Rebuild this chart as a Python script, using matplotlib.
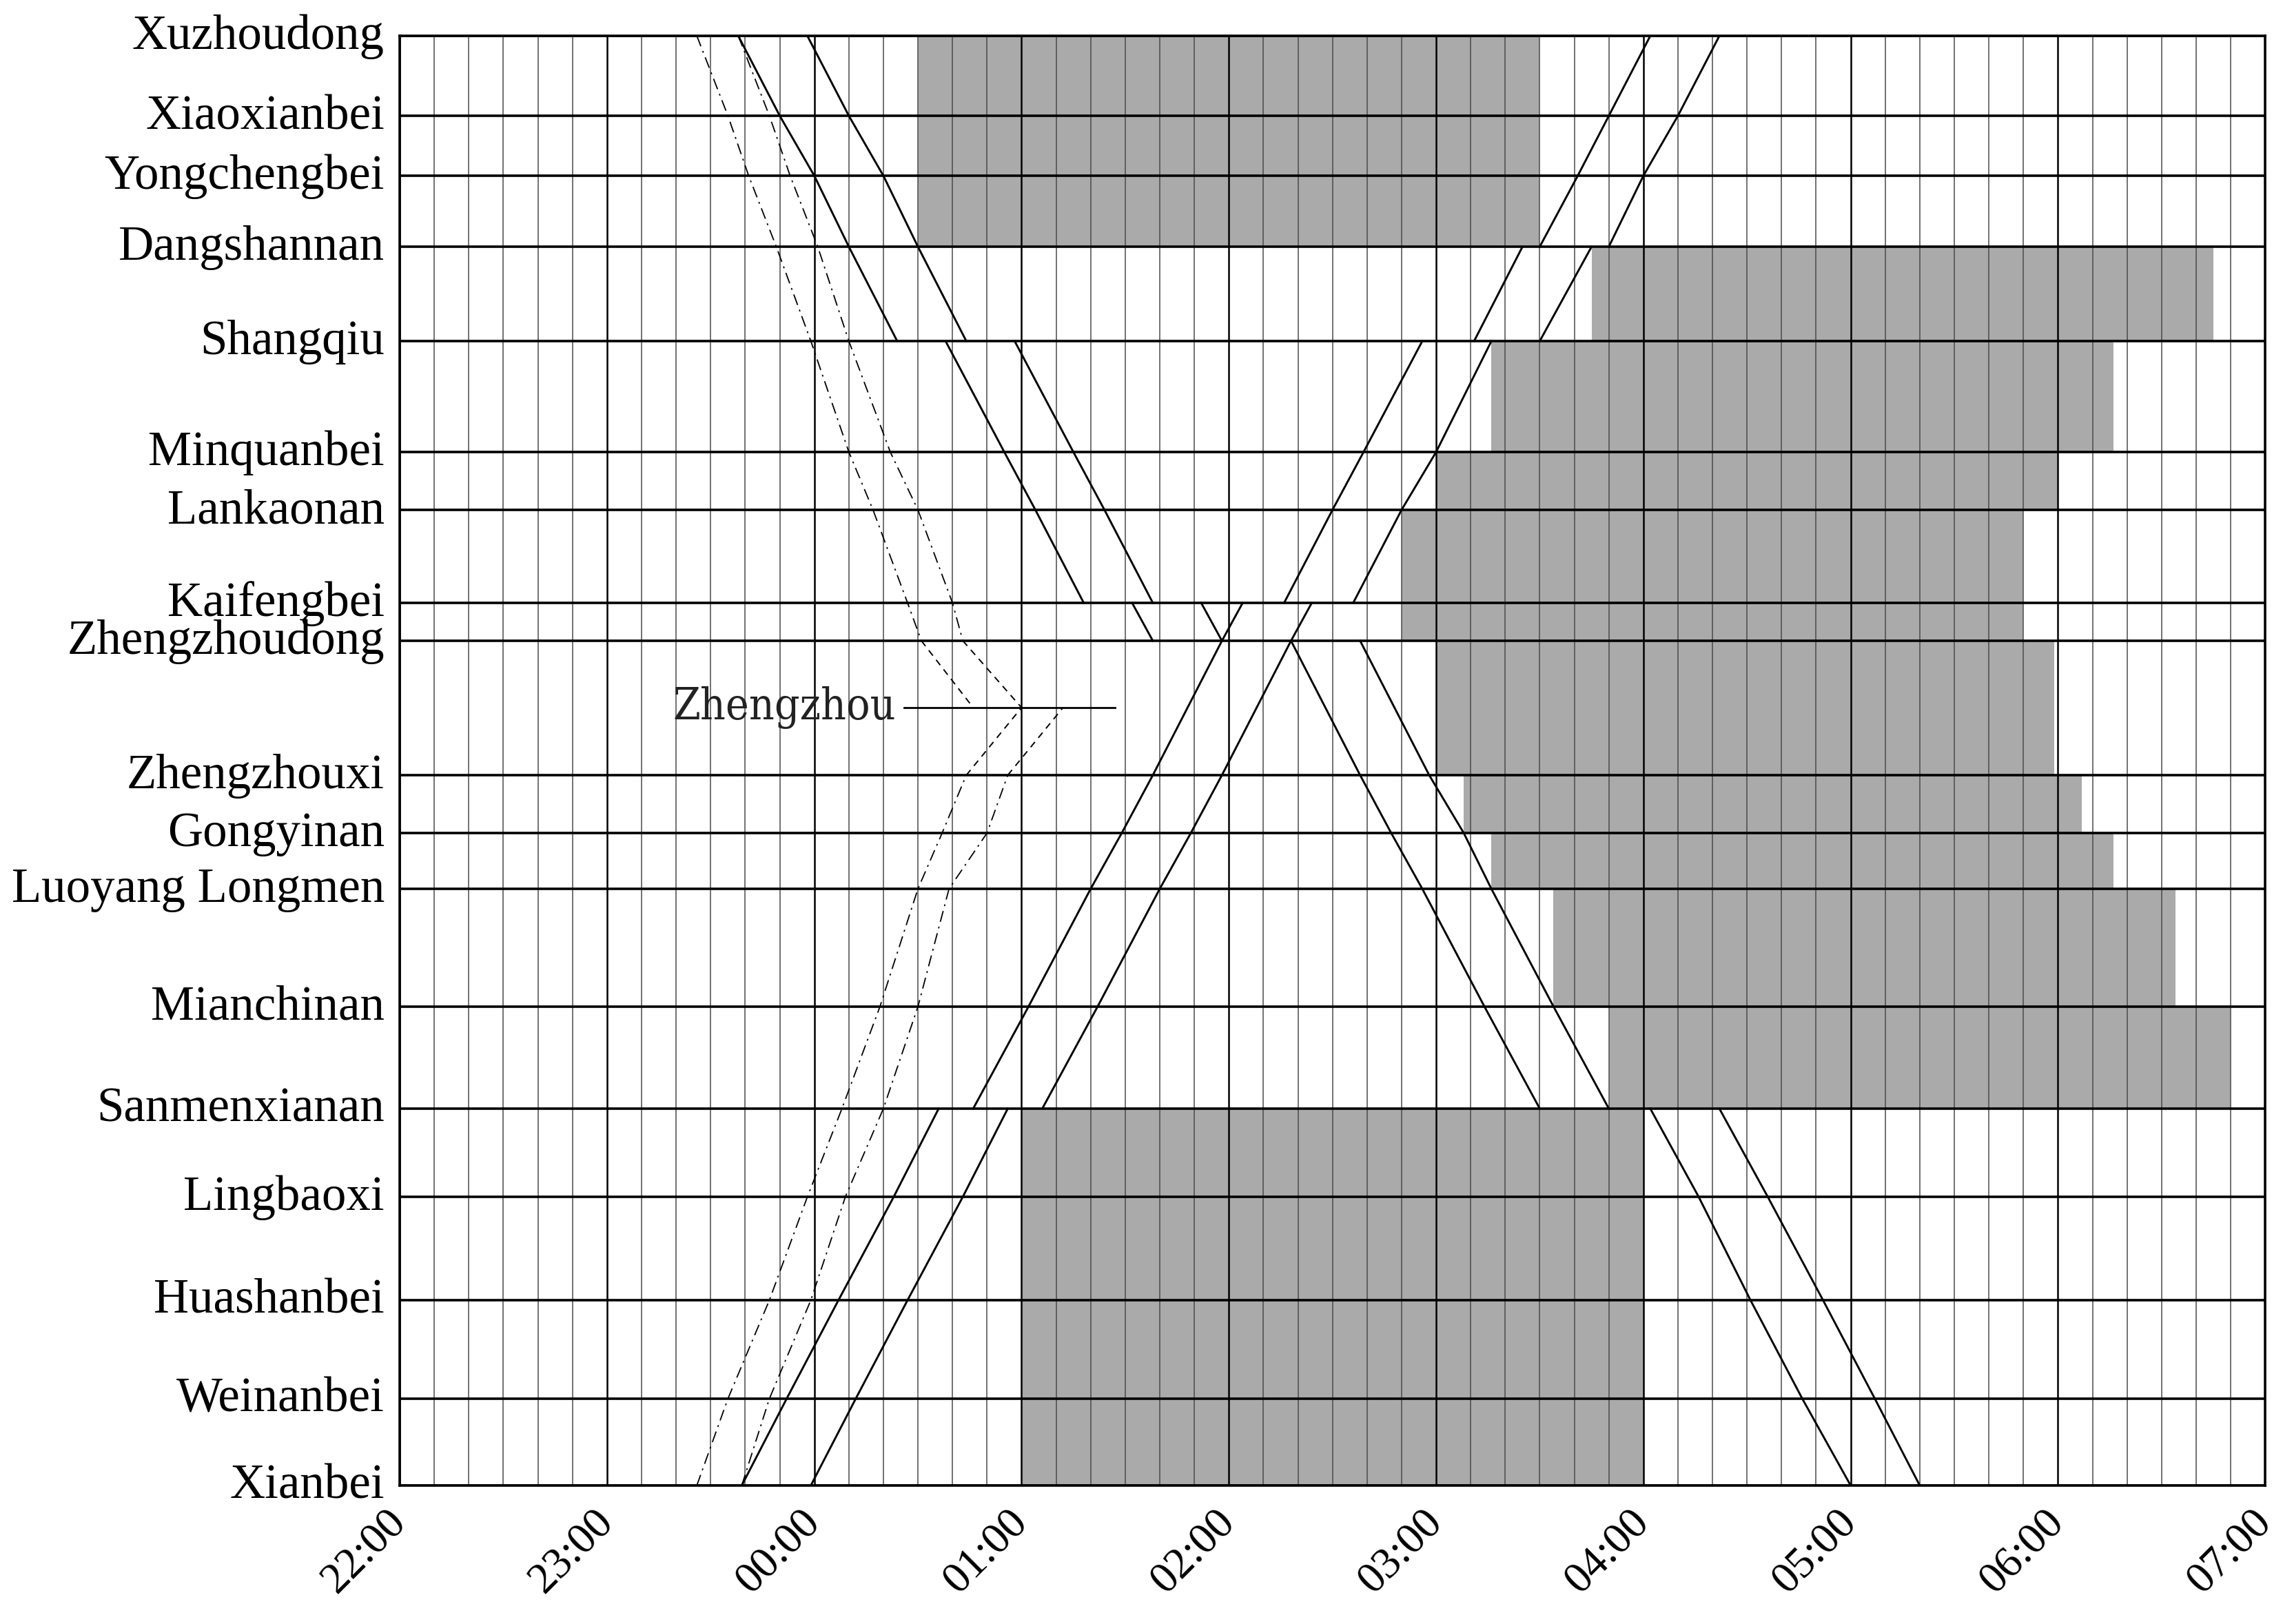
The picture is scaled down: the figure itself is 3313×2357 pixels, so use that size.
import numpy as np
import matplotlib.pyplot as plt
from matplotlib.transforms import ScaledTranslation

plt.rcParams['font.family'] = ['Liberation Serif', 'DejaVu Serif']

# stations, top (Xuzhou) to bottom (Xi'an), relative position along the line
stations = ["Xuzhoudong", "Xiaoxianbei", "Yongchengbei", "Dangshannan", "Shangqiu",
            "Minquanbei", "Lankaonan", "Kaifengbei", "Zhengzhoudong", "Zhengzhouxi",
            "Gongyinan", "Luoyang Longmen", "Mianchinan", "Sanmenxianan", "Lingbaoxi",
            "Huashanbei", "Weinanbei", "Xianbei"]
station_pos = [0, 116, 203, 306, 443, 604, 688, 823, 878, 1073,
               1157, 1238, 1409, 1557, 1685, 1835, 1978, 2104]
zhengzhou_pos = 975

hour_labels = ["22:00", "23:00", "00:00", "01:00", "02:00", "03:00",
               "04:00", "05:00", "06:00", "07:00"]

# maintenance windows (grey)
block_from = ["Xuzhoudong", "Dangshannan", "Shangqiu", "Minquanbei", "Lankaonan",
              "Zhengzhoudong", "Zhengzhouxi", "Gongyinan", "Luoyang Longmen",
              "Mianchinan", "Sanmenxianan"]
block_to = ["Dangshannan", "Shangqiu", "Minquanbei", "Lankaonan", "Zhengzhoudong",
            "Zhengzhouxi", "Gongyinan", "Luoyang Longmen", "Mianchinan",
            "Sanmenxianan", "Xianbei"]
block_start = ["00:30", "03:45", "03:16", "03:00", "02:50", "03:00", "03:08",
               "03:16", "03:34", "03:50", "01:00"]
block_end = ["03:30", "06:45", "06:16", "06:00", "05:50", "05:59", "06:07",
             "06:16", "06:34", "06:50", "04:00"]

# solid trains: (station, time), a repeated station means a stop
train_a_st = ["Xuzhoudong", "Xiaoxianbei", "Yongchengbei", "Dangshannan", "Shangqiu", "Shangqiu",
              "Minquanbei", "Lankaonan", "Kaifengbei", "Kaifengbei", "Zhengzhoudong", "Zhengzhoudong",
              "Zhengzhouxi", "Gongyinan", "Luoyang Longmen", "Mianchinan", "Sanmenxianan",
              "Sanmenxianan", "Lingbaoxi", "Huashanbei", "Weinanbei", "Xianbei"]
train_a_t = ["23:38", "23:50", "00:00", "00:10", "00:24", "00:38",
             "00:55", "01:04", "01:18", "01:32", "01:38", "02:18",
             "02:38", "02:47", "02:56", "03:14", "03:30",
             "04:02", "04:16", "04:31", "04:46", "05:00"]
train_b_t = ["23:58", "00:10", "00:20", "00:30", "00:44", "00:58",
             "01:15", "01:24", "01:38", "01:52", "01:58", "02:38",
             "02:58", "03:08", "03:16", "03:34", "03:50",
             "04:22", "04:36", "04:52", "05:07", "05:20"]

train_c_st = ["Xianbei", "Weinanbei", "Huashanbei", "Lingbaoxi", "Sanmenxianan", "Sanmenxianan",
              "Mianchinan", "Luoyang Longmen", "Gongyinan", "Zhengzhouxi", "Zhengzhoudong",
              "Kaifengbei", "Kaifengbei", "Lankaonan", "Minquanbei", "Shangqiu", "Shangqiu",
              "Dangshannan", "Dangshannan", "Yongchengbei", "Xiaoxianbei", "Xuzhoudong"]
train_c_t = ["23:39", "23:52", "00:07", "00:23", "00:36", "00:46",
             "01:02", "01:20", "01:29", "01:38", "01:58",
             "02:04", "02:16", "02:30", "02:39", "02:56", "03:11",
             "03:25", "03:30", "03:41", "03:50", "04:02"]
train_d_t = ["23:59", "00:12", "00:27", "00:43", "00:56", "01:06",
             "01:22", "01:40", "01:49", "01:58", "02:18",
             "02:24", "02:36", "02:50", "03:00", "03:16", "03:30",
             "03:45", "03:50", "04:00", "04:10", "04:22"]

# trains ending at Zhengzhou (dash-dot on the high speed line, dashed on the link)
east_st = ["Xuzhoudong", "Xiaoxianbei", "Yongchengbei", "Dangshannan", "Shangqiu",
           "Minquanbei", "Lankaonan", "Kaifengbei", "Zhengzhoudong"]
train_e_t = ["23:26", "23:35", "23:41", "23:49", "23:59", "00:10", "00:17", "00:27", "00:31"]
train_f_t = ["23:38", "23:47", "23:53", "00:01", "00:10", "00:22", "00:30", "00:40", "00:43"]
west_st = ["Xianbei", "Weinanbei", "Huashanbei", "Lingbaoxi", "Sanmenxianan",
           "Mianchinan", "Luoyang Longmen", "Gongyinan", "Zhengzhouxi"]
train_g_t = ["23:26", "23:35", "23:47", "23:58", "00:08", "00:19", "00:30", "00:37", "00:44"]
train_h_t = ["23:39", "23:47", "23:59", "00:09", "00:20", "00:30", "00:39", "00:50", "00:56"]
zz_arrive = ["00:46", "01:00", "01:00", "01:12"]   # e, f, g, h at Zhengzhou
zz_line = ["00:26", "01:27"]

pos = dict(zip(stations, station_pos))
pos["Zhengzhou"] = zhengzhou_pos


def to_min(s):
    h, m = s.split(":")
    h = int(h)
    if h < 22:
        h += 24
    return (h - 22) * 60 + float(m)


fig = plt.figure(figsize=(33.13, 23.57), dpi=100)
ax = fig.add_axes([0.1751, 0.0853, 0.8171, 0.8926])

for f, t, s, e in zip(block_from, block_to, block_start, block_end):
    ax.fill_between([to_min(s), to_min(e)], pos[f], pos[t], color='#aaaaaa', lw=0, zorder=1)

for m in range(0, 541, 10):
    if m % 60 == 0:
        ax.axvline(m, color='black', lw=1.8, zorder=2)
    else:
        ax.axvline(m, color='#4a4a4a', lw=1.1, zorder=2)
for p in station_pos:
    ax.axhline(p, color='black', lw=2.6, zorder=2)


def draw_train(names, times, **kw):
    xs, ys = [], []
    for i, (n, t) in enumerate(zip(names, times)):
        if i > 0 and n == names[i - 1]:
            xs.append(np.nan)
            ys.append(np.nan)
        xs.append(to_min(t))
        ys.append(pos[n])
    ax.plot(xs, ys, **kw)


solid = dict(color='black', lw=2.1, zorder=4)
draw_train(train_a_st, train_a_t, **solid)
draw_train(train_a_st, train_b_t, **solid)
draw_train(train_c_st, train_c_t, **solid)
draw_train(train_c_st, train_d_t, **solid)

dashdot = dict(color='black', lw=1.3, ls=(0, (9, 4, 1.5, 4)), zorder=4)
dashed = dict(color='black', lw=1.4, ls=(0, (5, 4)), zorder=4)
ends = []
for st, tt in [(east_st, train_e_t), (east_st, train_f_t), (west_st, train_g_t), (west_st, train_h_t)]:
    draw_train(st, tt, **dashdot)
    ends.append((st[-1], tt[-1]))
for (st, t0), t1 in zip(ends, zz_arrive):
    draw_train([st, "Zhengzhou"], [t0, t1], **dashed)

ax.plot([to_min(zz_line[0]), to_min(zz_line[1])], [zhengzhou_pos, zhengzhou_pos],
        color='black', lw=2.0, zorder=4)
ax.text(to_min(zz_line[0]) - 2.5, zhengzhou_pos, "Zhengzhou", ha='right', va='center',
        fontsize=46, family=['DejaVu Serif'], fontstretch='condensed', fontweight='light',
        color='#222222', zorder=5)

ax.set_xlim(0, 540)
ax.set_ylim(station_pos[-1], 0)
ax.set_xticks(range(0, 541, 60))
ax.set_xticklabels(hour_labels, rotation=45, ha='right', va='center',
                   rotation_mode='anchor', fontsize=46)
ax.set_yticks(station_pos)
ax.set_yticklabels(stations, fontsize=51)
ax.tick_params(axis='both', length=0)
ax.tick_params(axis='y', pad=16)
ax.tick_params(axis='x', pad=32)
# station names sit slightly above their lines
up = ScaledTranslation(0, 6 / 100, fig.dpi_scale_trans)
for lab in ax.get_yticklabels():
    lab.set_transform(lab.get_transform() + up)
for sp in ax.spines.values():
    sp.set_linewidth(2.6)
    sp.set_zorder(6)

fig.savefig("out.png", dpi=100, facecolor='white')
